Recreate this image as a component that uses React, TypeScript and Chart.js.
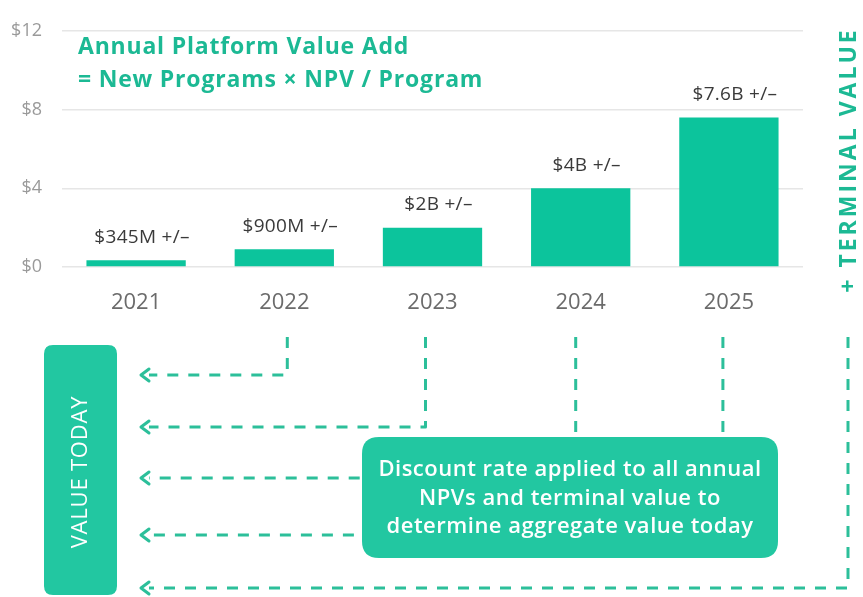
import { useEffect, useRef } from 'react';
import { Chart, registerables } from 'chart.js';

Chart.register(...registerables);

const categories = ['2021', '2022', '2023', '2024', '2025'];
const values = [0.345, 0.9, 2, 4, 7.6];
const valueLabels = ['$345M +/–', '$900M +/–', '$2B +/–', '$4B +/–', '$7.6B +/–'];
const yTicks = [0, 4, 8, 12];
const titleLines = ['Annual Platform Value Add', '= New Programs × NPV / Program'];
const calloutLines = [
  'Discount rate applied to all annual',
  'NPVs and terminal value to',
  'determine aggregate value today',
];
const sideLabel = '+ TERMINAL VALUE';
const boxLabel = 'VALUE TODAY';

const W = 863;
const H = 597;
const FONT = '"Open Sans", Lato, sans-serif';
const BAR = '#0cc49c';
const TEAL_TEXT = '#1cb994';
const LINE = '#2cbf9a';
const BOX = '#22c7a1';

function roundRect(ctx: CanvasRenderingContext2D, x: number, y: number, w: number, h: number, r: number) {
  ctx.beginPath();
  ctx.moveTo(x + r, y);
  ctx.lineTo(x + w - r, y);
  ctx.quadraticCurveTo(x + w, y, x + w, y + r);
  ctx.lineTo(x + w, y + h - r);
  ctx.quadraticCurveTo(x + w, y + h, x + w - r, y + h);
  ctx.lineTo(x + r, y + h);
  ctx.quadraticCurveTo(x, y + h, x, y + h - r);
  ctx.lineTo(x, y + r);
  ctx.quadraticCurveTo(x, y, x + r, y);
  ctx.closePath();
}

function spaced(ctx: CanvasRenderingContext2D, px: number) {
  (ctx as any).letterSpacing = `${px}px`;
}

const overlayPlugin = {
  id: 'overlay',
  afterDatasetsDraw(chart: any) {
    const ctx: CanvasRenderingContext2D = chart.ctx;
    const meta = chart.getDatasetMeta(0);
    ctx.save();
    meta.data.forEach((bar: any, i: number) => {
      const { x, y, width } = bar.getProps(['x', 'y', 'width'], true);
      const ly = y - 23;
      ctx.fillStyle = '#ffffff';
      ctx.fillRect(x - width / 2, ly - 14, width + 16, 28);
      ctx.font = `400 19px ${FONT}`;
      spaced(ctx, 0.3);
      ctx.fillStyle = '#3a3a3a';
      ctx.textAlign = 'center';
      ctx.textBaseline = 'middle';
      ctx.fillText(valueLabels[i], x + 6, ly);
    });
    ctx.restore();
  },
  afterDraw(chart: any) {
    const ctx: CanvasRenderingContext2D = chart.ctx;
    ctx.save();
    // Title
    ctx.font = `700 23px ${FONT}`;
    spaced(ctx, 0.8);
    ctx.fillStyle = TEAL_TEXT;
    ctx.textAlign = 'left';
    ctx.textBaseline = 'middle';
    ctx.fillText(titleLines[0], 78, 47);
    ctx.fillText(titleLines[1], 78, 80);

    // Terminal value label
    ctx.save();
    ctx.translate(849, 160);
    ctx.rotate(-Math.PI / 2);
    ctx.font = `700 23px ${FONT}`;
    spaced(ctx, 3);
    ctx.textAlign = 'center';
    ctx.fillText(sideLabel, 0, 0);
    ctx.restore();
    spaced(ctx, 0);

    // Dashed connectors
    const xs = chart.scales.x;
    const cx = (i: number) => xs.getPixelForValue(i);
    const top = 337;
    const arrowX = 141;
    ctx.strokeStyle = LINE;
    ctx.lineWidth = 3;
    ctx.setLineDash([11, 10]);
    ctx.lineJoin = 'round';
    const paths: [number, number][] = [
      [cx(1) + 3, 375],
      [cx(2) - 7, 427],
      [cx(3) - 5, 478],
      [cx(4) - 6, 535],
      [848, 588],
    ];
    paths.forEach(([vx, hy]) => {
      ctx.beginPath();
      ctx.moveTo(vx, top);
      ctx.lineTo(vx, hy);
      ctx.lineTo(arrowX + 8, hy);
      ctx.stroke();
    });
    ctx.setLineDash([]);
    ctx.lineWidth = 3;
    ctx.lineCap = 'round';
    paths.forEach(([, hy]) => {
      ctx.beginPath();
      ctx.moveTo(arrowX + 8, hy - 6);
      ctx.lineTo(arrowX, hy);
      ctx.lineTo(arrowX + 8, hy + 6);
      ctx.stroke();
    });

    // VALUE TODAY box
    ctx.fillStyle = BOX;
    roundRect(ctx, 44, 345, 73, 250, 9);
    ctx.fill();
    ctx.save();
    ctx.translate(81, 472);
    ctx.rotate(-Math.PI / 2);
    ctx.fillStyle = '#ffffff';
    ctx.font = `400 22px ${FONT}`;
    spaced(ctx, 0.8);
    ctx.textAlign = 'center';
    ctx.textBaseline = 'middle';
    ctx.fillText(boxLabel, 0, 0);
    ctx.restore();

    // Callout box
    ctx.fillStyle = BOX;
    roundRect(ctx, 362, 437, 416, 121, 17);
    ctx.fill();
    ctx.fillStyle = '#ffffff';
    ctx.font = `600 22px ${FONT}`;
    spaced(ctx, 0.5);
    ctx.textAlign = 'center';
    ctx.textBaseline = 'middle';
    calloutLines.forEach((t, i) => ctx.fillText(t, 570, 470 + i * 28.5));
    ctx.restore();
  },
};

export default function App() {
  const ref = useRef<HTMLCanvasElement>(null);
  useEffect(() => {
    document.body.style.margin = '0';
    const chart = new Chart(ref.current!, {
      type: 'bar',
      data: {
        labels: categories,
        datasets: [
          {
            data: values,
            backgroundColor: BAR,
            borderWidth: 0,
            barPercentage: 0.67,
            categoryPercentage: 1,
          },
        ],
      },
      options: {
        responsive: false,
        animation: false,
        layout: { padding: { left: 0, right: 60, top: 21, bottom: 280 } },
        plugins: { legend: { display: false }, tooltip: { enabled: false } },
        scales: {
          x: {
            grid: { display: false, drawTicks: false },
            border: { display: false },
            ticks: { font: { family: FONT, size: 22 }, color: '#6b6b6b', padding: 23 },
            afterFit: (s: any) => {
              s.height = 50;
            },
          },
          y: {
            min: 0,
            max: 12,
            afterBuildTicks: (s: any) => {
              s.ticks = yTicks.map((v) => ({ value: v }));
            },
            grid: { color: '#e6e6e6', lineWidth: 1.5, drawTicks: false },
            border: { display: false },
            ticks: {
              font: { family: FONT, size: 18 },
              color: '#9a9a9a',
              padding: 20,
              callback: (v: any) => `$${v}`,
            },
            afterFit: (s: any) => {
              s.width = 62;
            },
          },
        },
      },
      plugins: [overlayPlugin],
    });
    return () => chart.destroy();
  }, []);
  return (
    <div style={{ width: W, height: H }}>
      <canvas ref={ref} width={W} height={H} style={{ display: 'block' }} />
    </div>
  );
}
